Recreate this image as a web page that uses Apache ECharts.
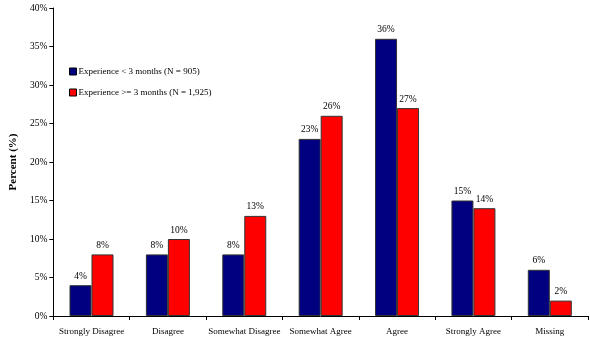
<!DOCTYPE html>
<html><head><meta charset="utf-8">
<script src="https://cdn.jsdelivr.net/npm/echarts@6/dist/echarts.min.js"></script>
<style>html,body{margin:0;padding:0;background:#fff}#c{width:590px;height:340px}</style>
</head><body><div id="c"></div>
<script>
const categories = ["Strongly Disagree","Disagree","Somewhat Disagree","Somewhat Agree","Agree","Strongly Agree","Missing"];
const seriesNames = ["Experience < 3 months (N = 905)","Experience >= 3 months (N = 1,925)"];
const lessThan3 = [4, 8, 8, 23, 36, 15, 6];
const atLeast3 = [8, 10, 13, 26, 27, 14, 2];
const yTicks = [0,5,10,15,20,25,30,35,40];
const font = "'Liberation Serif','Times New Roman',serif";
const chart = echarts.init(document.getElementById('c'));
const lbl = {show:true, position:'top', formatter:p=>p.value+'%', fontFamily:font, fontSize:9.5, color:'#000', distance:4};
chart.setOption({
  animation:false,
  grid:{left:45, right:2, top:8, bottom:24},
  legend:{
    orient:'vertical', left:64, top:62, itemGap:12, itemWidth:7, itemHeight:7,
    icon:'rect', textStyle:{fontFamily:font, fontSize:9, color:'#000', padding:[0,0,0,-3]},
    itemStyle:{borderColor:'#000', borderWidth:1},
    data:seriesNames
  },
  xAxis:{
    type:'category', data:categories,
    axisLine:{lineStyle:{color:'#000'}},
    axisTick:{show:true, alignWithLabel:false, length:4, lineStyle:{color:'#000'}},
    axisLabel:{fontFamily:font, fontSize:9, color:'#000', margin:11, interval:0}
  },
  yAxis:{
    type:'value', min:0, max:40, interval:5,
    name:'Percent (%)', nameLocation:'middle', nameGap:29,
    nameTextStyle:{fontFamily:font, fontSize:11, fontWeight:'bold', color:'#000'},
    axisLine:{show:true, lineStyle:{color:'#000'}},
    axisTick:{show:true, length:4, lineStyle:{color:'#000'}},
    splitLine:{show:false},
    axisLabel:{fontFamily:font, fontSize:9.5, color:'#000', margin:6, formatter:v=>yTicks.includes(v)?v+'%':''}
  },
  series:[
    {name:seriesNames[0], type:'bar', data:lessThan3, barWidth:22, barGap:'0%',
     itemStyle:{color:'#000080', borderColor:'#333', borderWidth:1}, label:lbl},
    {name:seriesNames[1], type:'bar', data:atLeast3, barWidth:22, barGap:'0%',
     itemStyle:{color:'#ff0000', borderColor:'#333', borderWidth:1}, label:lbl}
  ]
});
</script></body></html>
